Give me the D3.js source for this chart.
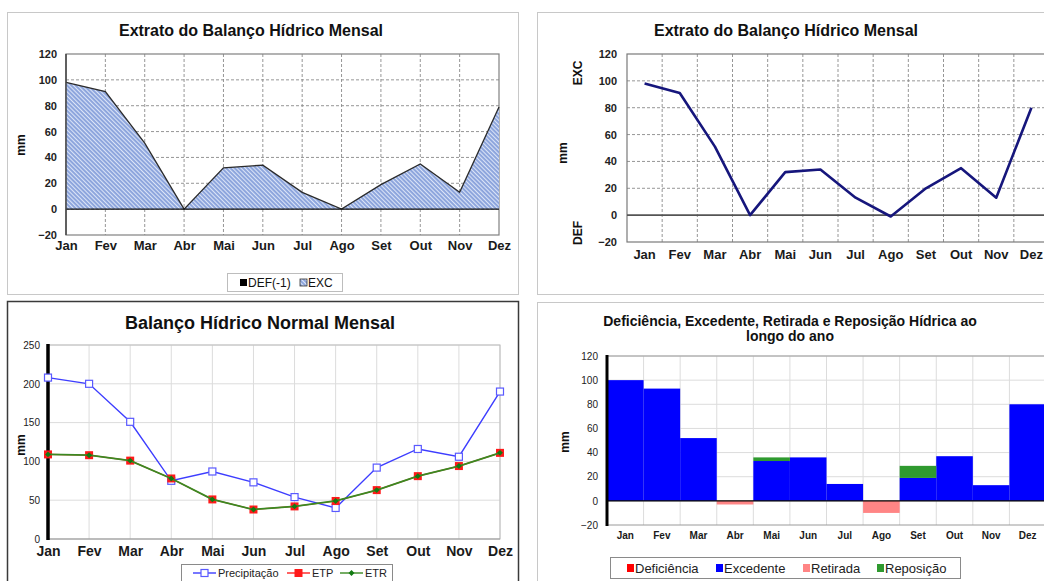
<!DOCTYPE html>
<html>
<head>
<meta charset="utf-8">
<script src="https://cdn.jsdelivr.net/npm/d3@7"></script>
<style>
  body { margin: 0; background: #fff; }
  svg text { font-family: "Liberation Sans", Arial, sans-serif; }
</style>
</head>
<body>
<svg width="1044" height="581"></svg>
<script>
// data
const months = ["Jan", "Fev", "Mar", "Abr", "Mai", "Jun", "Jul", "Ago", "Set", "Out", "Nov", "Dez"];
const excArea = [98, 91, 51, 0, 32, 34, 13, 0, 19, 35, 13, 79];
const defArea = [0, 0, 0, 0, 0, 0, 0, 0, 0, 0, 0, 0];
const excDefLine = [98, 91, 51, 0, 32, 34, 13, -1, 20, 35, 13, 80];
const precipitacao = [208, 200, 151, 75, 87, 73, 54, 40, 92, 116, 106, 190];
const etp = [109, 108, 101, 78, 51, 38, 42, 49, 63, 81, 94, 111];
const etr = [109, 108, 101, 78, 51, 38, 42, 49, 63, 81, 94, 111];
const deficiencia = [0, 0, 0, 0, 0, 0, 0, 0, 0, 0, 0, 0];
const excedente = [100, 93, 52, 0, 33, 36, 14, 0, 19, 37, 13, 80];
const retirada = [0, 0, 0, -3, 0, 0, 0, -10, 0, 0, 0, 0];
const reposicao = [0, 0, 0, 0, 3, 0, 0, 0, 10, 0, 0, 0];
const ticksExtrato = [-20, 0, 20, 40, 60, 80, 100, 120];
const ticksNormal = [0, 50, 100, 150, 200, 250];

const svg = d3.select("svg");
const defs = svg.append("defs");

// fine hatch for the EXC area
const hatch = defs.append("pattern")
  .attr("id", "hatch")
  .attr("patternUnits", "userSpaceOnUse")
  .attr("width", 3).attr("height", 3)
  .attr("patternTransform", "rotate(-45)");
hatch.append("rect").attr("width", 3).attr("height", 3).attr("fill", "#8aa3dc");
hatch.append("rect").attr("width", 1.1).attr("height", 3).attr("fill", "#dbe4f7");

function panel(x, y, w, h, stroke, sw) {
  svg.append("rect")
    .attr("x", x + 0.5).attr("y", y + 0.5)
    .attr("width", w).attr("height", h)
    .attr("fill", "#fff").attr("stroke", stroke).attr("stroke-width", sw);
}

function title(x, y, txt, size) {
  svg.append("text").attr("x", x).attr("y", y)
    .attr("text-anchor", "middle").attr("font-size", size)
    .attr("font-weight", "bold").attr("fill", "#111").text(txt);
}

function yLabels(scale, ticks, x, size, weight) {
  svg.append("g").attr("transform", `translate(${x},0)`)
    .call(d3.axisLeft(scale).tickValues(ticks).tickSize(0).tickPadding(0))
    .call(g => g.select(".domain").remove())
    .selectAll("text").attr("font-size", size).attr("font-weight", weight).attr("fill", "#222");
}

function xLabels(scale, y, size) {
  svg.append("g").attr("transform", `translate(0,${y})`)
    .call(d3.axisBottom(scale).tickSize(0).tickPadding(0))
    .call(g => g.select(".domain").remove())
    .selectAll("text").attr("font-size", size).attr("font-weight", "bold").attr("fill", "#1a1a1a");
}

function vText(x, y, txt, size) {
  svg.append("text").attr("transform", `translate(${x},${y}) rotate(-90)`)
    .attr("text-anchor", "middle").attr("font-size", size)
    .attr("font-weight", "bold").attr("fill", "#111").text(txt);
}

// ---------- 1. Extrato (area) ----------
panel(7, 12, 511, 282, "#c8c8c8", 1);
title(251, 36, "Extrato do Balanço Hídrico Mensal", 16);

const x1 = d3.scalePoint().domain(months).range([66, 499]);
const y1 = d3.scaleLinear().domain([-20, 120]).range([235, 54]);

svg.append("g").selectAll("line").data(ticksExtrato.slice(1, -1)).join("line")
  .attr("x1", 66).attr("x2", 499).attr("y1", d => y1(d)).attr("y2", d => y1(d))
  .attr("stroke", "#8a8a8a").attr("stroke-dasharray", "3,2").attr("stroke-width", 0.9);
svg.append("g").selectAll("line").data(months.slice(1, -1)).join("line")
  .attr("x1", d => x1(d)).attr("x2", d => x1(d)).attr("y1", 54).attr("y2", 235)
  .attr("stroke", "#8a8a8a").attr("stroke-dasharray", "3,2").attr("stroke-width", 0.9);
svg.append("rect").attr("x", 66).attr("y", 54).attr("width", 433).attr("height", 181)
  .attr("fill", "none").attr("stroke", "#808080").attr("stroke-width", 1.2);

const area1 = d3.area()
  .x((d, i) => x1(months[i])).y0(y1(0)).y1(d => y1(d));
svg.append("path").datum(excArea).attr("d", area1).attr("fill", "url(#hatch)");
svg.append("path").datum(defArea).attr("d", area1).attr("fill", "#000");
svg.append("path").datum(excArea)
  .attr("d", d3.line().x((d, i) => x1(months[i])).y(d => y1(d)))
  .attr("fill", "none").attr("stroke", "#2b2b2b").attr("stroke-width", 1.3);
svg.append("line").attr("x1", 66).attr("x2", 499).attr("y1", y1(0)).attr("y2", y1(0))
  .attr("stroke", "#111").attr("stroke-width", 1.3);
svg.append("line").attr("x1", 66).attr("x2", 66).attr("y1", 54).attr("y2", 235)
  .attr("stroke", "#444").attr("stroke-width", 1.5);

yLabels(y1, ticksExtrato, 57, 11, "bold");
xLabels(x1, 241, 13);
vText(25, 145, "mm", 12);

svg.append("rect").attr("x", 227.5).attr("y", 273.5).attr("width", 115).attr("height", 18)
  .attr("fill", "#fff").attr("stroke", "#bdbdbd");
svg.append("rect").attr("x", 240).attr("y", 279).attr("width", 7).attr("height", 7).attr("fill", "#000");
svg.append("text").attr("x", 248).attr("y", 287).attr("font-size", 12).attr("fill", "#111").text("DEF(-1)");
svg.append("rect").attr("x", 300).attr("y", 279).attr("width", 7).attr("height", 7)
  .attr("fill", "url(#hatch)").attr("stroke", "#333").attr("stroke-width", 0.8);
svg.append("text").attr("x", 308).attr("y", 287).attr("font-size", 12).attr("fill", "#111").text("EXC");

// ---------- 2. Extrato (line) ----------
panel(537, 12, 520, 282, "#c8c8c8", 1);
title(786, 36, "Extrato do Balanço Hídrico Mensal", 16);

const x2 = d3.scaleBand().domain(months).range([627, 1049]);
const y2 = d3.scaleLinear().domain([-20, 120]).range([242, 54]);

svg.append("g").selectAll("line").data(ticksExtrato.slice(1, -1).filter(d => d !== 0)).join("line")
  .attr("x1", 627).attr("x2", 1049).attr("y1", d => y2(d)).attr("y2", d => y2(d))
  .attr("stroke", "#8a8a8a").attr("stroke-dasharray", "3,2").attr("stroke-width", 0.9);
svg.append("g").selectAll("line").data(months.slice(1)).join("line")
  .attr("x1", d => x2(d)).attr("x2", d => x2(d)).attr("y1", 54).attr("y2", 242)
  .attr("stroke", "#8a8a8a").attr("stroke-dasharray", "3,2").attr("stroke-width", 0.9);
svg.append("rect").attr("x", 627).attr("y", 54).attr("width", 422).attr("height", 188)
  .attr("fill", "none").attr("stroke", "#7a7a7a").attr("stroke-width", 1.2);
svg.append("line").attr("x1", 627).attr("x2", 1049).attr("y1", y2(0)).attr("y2", y2(0))
  .attr("stroke", "#555").attr("stroke-width", 1.6);

svg.append("path").datum(excDefLine)
  .attr("d", d3.line().x((d, i) => x2(months[i]) + x2.bandwidth() / 2).y(d => y2(d)))
  .attr("fill", "none").attr("stroke", "#16167c").attr("stroke-width", 2.6)
  .attr("stroke-linejoin", "round");

yLabels(y2, ticksExtrato, 617, 11, "bold");
xLabels(x2, 250, 13);
vText(582, 73, "EXC", 12);
vText(567, 153, "mm", 12);
vText(582, 233, "DEF", 12);

// ---------- 3. Balanço normal ----------
panel(7, 301, 511, 290, "#3a3a3a", 1.5);
title(260, 329, "Balanço Hídrico Normal Mensal", 18);

const x3 = d3.scalePoint().domain(months).range([48, 500]);
const y3 = d3.scaleLinear().domain([0, 250]).range([539, 345]);

svg.append("g").selectAll("line").data(ticksNormal.slice(1)).join("line")
  .attr("x1", 48).attr("x2", 500).attr("y1", d => y3(d)).attr("y2", d => y3(d))
  .attr("stroke", "#dcdcdc").attr("stroke-width", 1);
svg.append("g").selectAll("line").data(months.slice(1)).join("line")
  .attr("x1", d => x3(d)).attr("x2", d => x3(d)).attr("y1", 345).attr("y2", 539)
  .attr("stroke", "#dcdcdc").attr("stroke-width", 1);
svg.append("rect").attr("x", 48).attr("y", 345).attr("width", 452).attr("height", 194)
  .attr("fill", "none").attr("stroke", "#bdbdbd").attr("stroke-width", 1);
svg.append("line").attr("x1", 48).attr("x2", 500).attr("y1", 539).attr("y2", 539)
  .attr("stroke", "#9a9a9a").attr("stroke-width", 1);
svg.append("line").attr("x1", 48).attr("x2", 48).attr("y1", 344).attr("y2", 540)
  .attr("stroke", "#000").attr("stroke-width", 3.5);

const line3 = d3.line().x((d, i) => x3(months[i])).y(d => y3(d));
svg.append("path").datum(precipitacao).attr("d", line3)
  .attr("fill", "none").attr("stroke", "#3d3dff").attr("stroke-width", 1.4);
svg.append("g").selectAll("rect").data(precipitacao).join("rect")
  .attr("x", (d, i) => x3(months[i]) - 3.5).attr("y", d => y3(d) - 3.5)
  .attr("width", 7).attr("height", 7)
  .attr("fill", "#fff").attr("stroke", "#5a5aff").attr("stroke-width", 1.2);
svg.append("path").datum(etp).attr("d", line3)
  .attr("fill", "none").attr("stroke", "#ff2020").attr("stroke-width", 1.2);
svg.append("g").selectAll("rect").data(etp).join("rect")
  .attr("x", (d, i) => x3(months[i]) - 4).attr("y", d => y3(d) - 4)
  .attr("width", 8).attr("height", 8).attr("fill", "#ff1a1a");
svg.append("path").datum(etr).attr("d", line3)
  .attr("fill", "none").attr("stroke", "#3a8a22").attr("stroke-width", 1.8);
svg.append("g").selectAll("path").data(etr).join("path")
  .attr("d", d3.symbol(d3.symbolDiamond2, 22))
  .attr("transform", (d, i) => `translate(${x3(months[i])},${y3(d)})`)
  .attr("fill", "#127a12");

yLabels(y3, ticksNormal, 40, 10, "normal");
xLabels(x3, 546, 14);
vText(25, 445, "mm", 12);

svg.append("rect").attr("x", 181.5).attr("y", 564.5).attr("width", 211).attr("height", 26)
  .attr("fill", "#fff").attr("stroke", "#8a8a8a");
const leg3 = [
  { name: "Precipitação", x: 193, color: "#3d3dff" },
  { name: "ETP", x: 287, color: "#ff2020" },
  { name: "ETR", x: 340, color: "#3a8a22" }
];
leg3.forEach((d, i) => {
  svg.append("line").attr("x1", d.x).attr("x2", d.x + 23).attr("y1", 573).attr("y2", 573)
    .attr("stroke", d.color).attr("stroke-width", 1.4);
  if (i === 0) {
    svg.append("rect").attr("x", d.x + 8).attr("y", 569.5).attr("width", 7).attr("height", 7)
      .attr("fill", "#fff").attr("stroke", "#5a5aff").attr("stroke-width", 1.2);
  } else if (i === 1) {
    svg.append("rect").attr("x", d.x + 7.5).attr("y", 569).attr("width", 8).attr("height", 8).attr("fill", "#ff1a1a");
  } else {
    svg.append("path").attr("d", d3.symbol(d3.symbolDiamond2, 22))
      .attr("transform", `translate(${d.x + 11.5},573)`).attr("fill", "#127a12");
  }
  svg.append("text").attr("x", d.x + 25).attr("y", 577).attr("font-size", 11)
    .attr("fill", "#222").text(d.name);
});

// ---------- 4. Deficiência / Excedente ----------
panel(537, 302, 520, 290, "#c8c8c8", 1);
title(790, 326, "Deficiência, Excedente, Retirada e Reposição Hídrica ao", 14);
title(790, 341, "longo do ano", 14);

const x4 = d3.scaleBand().domain(months).range([607, 1046]).padding(0);
const y4 = d3.scaleLinear().domain([-20, 120]).range([525, 356]);

svg.append("g").selectAll("line").data(ticksExtrato.slice(1)).join("line")
  .attr("x1", 607).attr("x2", 1046).attr("y1", d => y4(d)).attr("y2", d => y4(d))
  .attr("stroke", "#dcdcdc").attr("stroke-width", 1);
svg.append("g").selectAll("line").data(months.slice(1)).join("line")
  .attr("x1", d => x4(d)).attr("x2", d => x4(d)).attr("y1", 356).attr("y2", 525)
  .attr("stroke", "#dcdcdc").attr("stroke-width", 1);
svg.append("rect").attr("x", 607).attr("y", 356).attr("width", 439).attr("height", 169)
  .attr("fill", "none").attr("stroke", "#9a9a9a").attr("stroke-width", 1);

const keys4 = ["Deficiência", "Excedente", "Retirada", "Reposição"];
const colors4 = { "Deficiência": "#ff0000", "Excedente": "#0000ff", "Retirada": "#ff8585", "Reposição": "#2f9a2f" };
const table4 = months.map((m, i) => ({
  month: m,
  "Deficiência": deficiencia[i],
  "Excedente": excedente[i],
  "Retirada": retirada[i],
  "Reposição": reposicao[i]
}));
const stacked = d3.stack().keys(keys4).offset(d3.stackOffsetDiverging)(table4);
svg.append("g").selectAll("g").data(stacked).join("g")
  .attr("fill", s => colors4[s.key])
  .selectAll("rect").data(s => s).join("rect")
  .attr("x", d => x4(d.data.month)).attr("width", x4.bandwidth())
  .attr("y", d => y4(Math.max(d[0], d[1])))
  .attr("height", d => Math.abs(y4(d[0]) - y4(d[1])));

svg.append("line").attr("x1", 607).attr("x2", 1046).attr("y1", y4(0)).attr("y2", y4(0))
  .attr("stroke", "#000").attr("stroke-width", 1.3);
svg.append("line").attr("x1", 607).attr("x2", 607).attr("y1", 355).attr("y2", 526)
  .attr("stroke", "#000").attr("stroke-width", 3);

yLabels(y4, ticksExtrato, 598, 10, "normal");
xLabels(x4, 532, 10);
vText(569, 442, "mm", 12);

svg.append("rect").attr("x", 610.5).attr("y", 557.5).attr("width", 350).attr("height", 21)
  .attr("fill", "#fff").attr("stroke", "#8a8a8a");
const legX4 = [627, 716, 803, 877];
keys4.forEach((k, i) => {
  svg.append("rect").attr("x", legX4[i]).attr("y", 564).attr("width", 7).attr("height", 8).attr("fill", colors4[k]);
  svg.append("text").attr("x", legX4[i] + 8).attr("y", 573).attr("font-size", 13)
    .attr("fill", "#222").text(k);
});
</script>
</body>
</html>
